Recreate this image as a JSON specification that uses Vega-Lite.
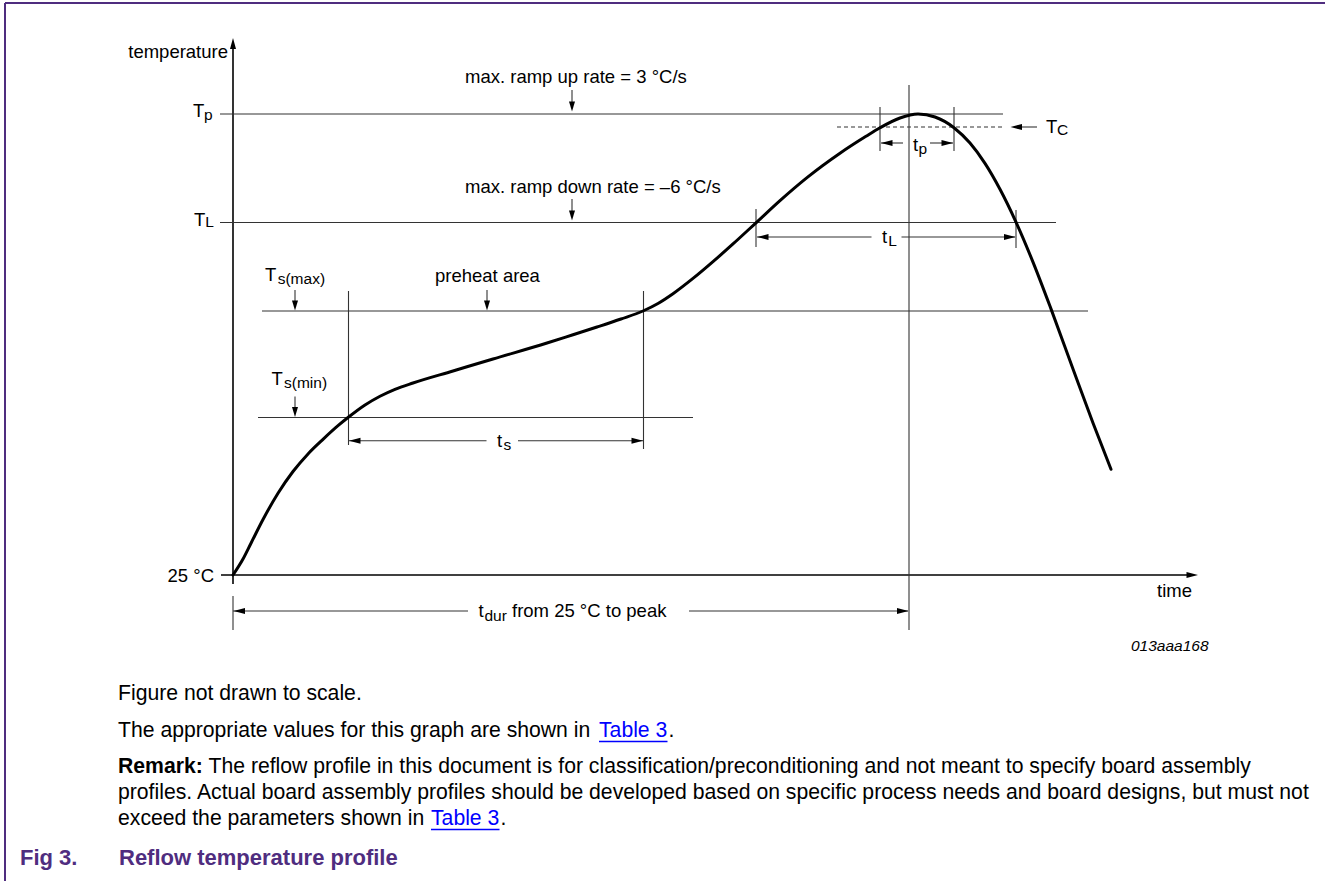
{
  "$schema": "https://vega.github.io/schema/vega-lite/v6.json",
  "width": 1325,
  "height": 881,
  "autosize": {"type": "none"},
  "padding": 0,
  "background": "white",
  "config": {"view": {"stroke": null}},
  "datasets": {
    "frame": [
      {"time": -228, "temp": 572, "time2": 1092, "temp2": 572},
      {"time": -228, "temp": 572, "time2": -228, "temp2": -306}
    ],
    "axes": [
      {"time": 0, "temp": -9, "time2": 0, "temp2": 530},
      {"time": -12, "temp": 0, "time2": 958, "temp2": 0}
    ],
    "guides": [
      {"time": -13, "temp": 461, "time2": 770, "temp2": 461},
      {"time": -13, "temp": 352.5, "time2": 823, "temp2": 352.5},
      {"time": 29, "temp": 264, "time2": 855, "temp2": 264},
      {"time": 25, "temp": 157.5, "time2": 460, "temp2": 157.5},
      {"time": 676, "temp": 490, "time2": 676, "temp2": -55},
      {"time": 647, "temp": 468, "time2": 647, "temp2": 424},
      {"time": 721, "temp": 468, "time2": 721, "temp2": 424},
      {"time": 523, "temp": 366, "time2": 523, "temp2": 328},
      {"time": 783, "temp": 365, "time2": 783, "temp2": 327},
      {"time": 115.5, "temp": 284, "time2": 115.5, "temp2": 130},
      {"time": 410.5, "temp": 284, "time2": 410.5, "temp2": 126},
      {"time": 0, "temp": -21, "time2": 0, "temp2": -55},
      {"time": 648, "temp": 432, "time2": 670, "temp2": 432},
      {"time": 697, "temp": 432, "time2": 720, "temp2": 432},
      {"time": 524, "temp": 338, "time2": 638.5, "temp2": 338},
      {"time": 668.5, "temp": 338, "time2": 782, "temp2": 338},
      {"time": 116, "temp": 134.3, "time2": 253.5, "temp2": 134.3},
      {"time": 285, "temp": 134.3, "time2": 410, "temp2": 134.3},
      {"time": 0, "temp": -36, "time2": 235, "temp2": -36},
      {"time": 456, "temp": -36, "time2": 675, "temp2": -36},
      {"time": 785, "temp": 448, "time2": 804, "temp2": 448},
      {"time": 339, "temp": 485, "time2": 339, "temp2": 470},
      {"time": 339, "temp": 376, "time2": 339, "temp2": 361},
      {"time": 62, "temp": 285, "time2": 62, "temp2": 271},
      {"time": 254, "temp": 285, "time2": 254, "temp2": 271},
      {"time": 62, "temp": 178.5, "time2": 62, "temp2": 164}
    ],
    "tc_line": [
      {"time": 604, "temp": 448, "time2": 771, "temp2": 448}
    ],
    "profile": [
      {"time": 0, "temp": 0},
      {"time": 10, "temp": 16},
      {"time": 18, "temp": 31.8},
      {"time": 30, "temp": 55.5},
      {"time": 45, "temp": 81.75},
      {"time": 60, "temp": 103.5},
      {"time": 75, "temp": 121.1},
      {"time": 90, "temp": 135.7},
      {"time": 105, "temp": 149.3},
      {"time": 115.3, "temp": 157.7},
      {"time": 132, "temp": 170},
      {"time": 147, "temp": 178.75},
      {"time": 162, "temp": 185.7},
      {"time": 180, "temp": 192},
      {"time": 220, "temp": 204},
      {"time": 260, "temp": 216},
      {"time": 314, "temp": 232},
      {"time": 340, "temp": 240.3},
      {"time": 364, "temp": 248},
      {"time": 388, "temp": 256},
      {"time": 410, "temp": 264},
      {"time": 425, "temp": 271.5},
      {"time": 440, "temp": 281.25},
      {"time": 460, "temp": 296.55},
      {"time": 480, "temp": 313.35},
      {"time": 500, "temp": 331.05},
      {"time": 523, "temp": 352.2},
      {"time": 547, "temp": 374.4},
      {"time": 574, "temp": 397.4},
      {"time": 607, "temp": 421.8},
      {"time": 633, "temp": 438.7},
      {"time": 647, "temp": 447.2},
      {"time": 667, "temp": 457},
      {"time": 685, "temp": 461},
      {"time": 702, "temp": 458},
      {"time": 721, "temp": 447.3},
      {"time": 737, "temp": 431.9},
      {"time": 752, "temp": 411.6},
      {"time": 767, "temp": 385.7},
      {"time": 783, "temp": 352.9},
      {"time": 800, "temp": 312.9},
      {"time": 818, "temp": 266.1},
      {"time": 840, "temp": 206.1},
      {"time": 860, "temp": 152.1},
      {"time": 878, "temp": 105.7}
    ],
    "heads_down": [
      {"time": 339, "temp": 463.5},
      {"time": 339, "temp": 354.5},
      {"time": 62, "temp": 264.5},
      {"time": 254, "temp": 264.5},
      {"time": 62, "temp": 158}
    ],
    "heads_left": [
      {"time": 648, "temp": 432},
      {"time": 524, "temp": 338},
      {"time": 116, "temp": 134.3},
      {"time": 0.5, "temp": -36},
      {"time": 777.5, "temp": 448}
    ],
    "heads_right": [
      {"time": 720, "temp": 432},
      {"time": 782.5, "temp": 338},
      {"time": 410, "temp": 134.3},
      {"time": 675.5, "temp": -36},
      {"time": 965, "temp": 0}
    ],
    "heads_up": [
      {"time": 0, "temp": 537}
    ],
    "labels_left": [
      {"label": "T", "time": -40, "temp": 458},
      {"label": "T", "time": -39, "temp": 349.5},
      {"label": "T", "time": 32, "temp": 294},
      {"label": "T", "time": 38.5, "temp": 190},
      {"label": "T", "time": 813, "temp": 442.5},
      {"label": "t", "time": 680, "temp": 424},
      {"label": "t", "time": 649, "temp": 332},
      {"label": "t", "time": 264, "temp": 128},
      {"label": "t", "time": 245.5, "temp": -42},
      {"label": "from 25 °C to peak", "time": 279, "temp": -42},
      {"label": "max. ramp up rate = 3 °C/s", "time": 232, "temp": 492},
      {"label": "max. ramp down rate = –6 °C/s", "time": 232, "temp": 382.5},
      {"label": "preheat area", "time": 202, "temp": 293.5},
      {"label": "time", "time": 924, "temp": -22}
    ],
    "labels_right": [
      {"label": "temperature", "time": -5, "temp": 517},
      {"label": "25 °C", "time": -19, "temp": -6.5}
    ],
    "subscripts": [
      {"label": "p", "time": -29, "temp": 455},
      {"label": "L", "time": -27.7, "temp": 348},
      {"label": "s(max)", "time": 44.7, "temp": 291},
      {"label": "s(min)", "time": 51, "temp": 187},
      {"label": "C", "time": 824, "temp": 440},
      {"label": "p", "time": 685.5, "temp": 421},
      {"label": "L", "time": 655.3, "temp": 329},
      {"label": "s", "time": 270.5, "temp": 125},
      {"label": "dur", "time": 251.5, "temp": -46}
    ],
    "figure_id": [
      {"label": "013aaa168", "time": 898, "temp": -76}
    ],
    "body": [
      {"label": "Figure not drawn to scale.", "time": -115, "temp": -125},
      {"label": "The appropriate values for this graph are shown in", "time": -115, "temp": -162},
      {"label": ".", "time": 435.5, "temp": -162},
      {"label": "The reflow profile in this document is for classification/preconditioning and not meant to specify board assembly", "time": -24.5, "temp": -198},
      {"label": "profiles. Actual board assembly profiles should be developed based on specific process needs and board designs, but must not", "time": -115, "temp": -224},
      {"label": "exceed the parameters shown in", "time": -115, "temp": -250},
      {"label": ".", "time": 267.5, "temp": -250}
    ],
    "body_bold": [
      {"label": "Remark:", "time": -115, "temp": -198}
    ],
    "links": [
      {"label": "Table 3", "time": 366, "temp": -162},
      {"label": "Table 3", "time": 198, "temp": -250}
    ],
    "link_lines": [
      {"time": 366, "temp": -166.5, "time2": 434.5, "temp2": -166.5},
      {"time": 198, "temp": -254.5, "time2": 266.5, "temp2": -254.5}
    ],
    "caption": [
      {"label": "Fig 3.", "time": -213, "temp": -289.5},
      {"label": "Reflow temperature profile", "time": -114, "temp": -289.5}
    ]
  },
  "layer": [
    {
      "data": {"name": "frame"},
      "mark": {"type": "rule", "color": "#4F2D7F", "strokeWidth": 2},
      "encoding": {
        "x": {"field": "time", "type": "quantitative", "scale": {"domain": [-233, 1092], "nice": false, "zero": false}, "axis": null},
        "y": {"field": "temp", "type": "quantitative", "scale": {"domain": [-306, 575], "nice": false, "zero": false}, "axis": null},
        "x2": {"field": "time2"},
        "y2": {"field": "temp2"}
      }
    },
    {
      "data": {"name": "axes"},
      "mark": {"type": "rule", "color": "#000000", "strokeWidth": 1.6},
      "encoding": {
        "x": {"field": "time", "type": "quantitative", "scale": {"domain": [-233, 1092], "nice": false, "zero": false}, "axis": null},
        "y": {"field": "temp", "type": "quantitative", "scale": {"domain": [-306, 575], "nice": false, "zero": false}, "axis": null},
        "x2": {"field": "time2"},
        "y2": {"field": "temp2"}
      }
    },
    {
      "data": {"name": "guides"},
      "mark": {"type": "rule", "color": "#333333", "strokeWidth": 1.1},
      "encoding": {
        "x": {"field": "time", "type": "quantitative", "scale": {"domain": [-233, 1092], "nice": false, "zero": false}, "axis": null},
        "y": {"field": "temp", "type": "quantitative", "scale": {"domain": [-306, 575], "nice": false, "zero": false}, "axis": null},
        "x2": {"field": "time2"},
        "y2": {"field": "temp2"}
      }
    },
    {
      "data": {"name": "tc_line"},
      "mark": {"type": "rule", "color": "#333333", "strokeWidth": 1.1, "strokeDash": [4, 3]},
      "encoding": {
        "x": {"field": "time", "type": "quantitative", "scale": {"domain": [-233, 1092], "nice": false, "zero": false}, "axis": null},
        "y": {"field": "temp", "type": "quantitative", "scale": {"domain": [-306, 575], "nice": false, "zero": false}, "axis": null},
        "x2": {"field": "time2"},
        "y2": {"field": "temp2"}
      }
    },
    {
      "data": {"name": "profile"},
      "mark": {"type": "line", "color": "#000000", "strokeWidth": 3, "interpolate": "monotone", "strokeCap": "round"},
      "encoding": {
        "x": {"field": "time", "type": "quantitative", "scale": {"domain": [-233, 1092], "nice": false, "zero": false}, "axis": null},
        "y": {"field": "temp", "type": "quantitative", "scale": {"domain": [-306, 575], "nice": false, "zero": false}, "axis": null}
      }
    },
    {
      "data": {"name": "heads_down"},
      "mark": {"type": "point", "shape": "M0,0L-0.6,-2L0.6,-2Z", "filled": true, "color": "#000000", "size": 100, "opacity": 1, "strokeWidth": 0},
      "encoding": {
        "x": {"field": "time", "type": "quantitative", "scale": {"domain": [-233, 1092], "nice": false, "zero": false}, "axis": null},
        "y": {"field": "temp", "type": "quantitative", "scale": {"domain": [-306, 575], "nice": false, "zero": false}, "axis": null}
      }
    },
    {
      "data": {"name": "heads_left"},
      "mark": {"type": "point", "shape": "M0,0L2.3,-0.6L2.3,0.6Z", "filled": true, "color": "#000000", "size": 100, "opacity": 1, "strokeWidth": 0},
      "encoding": {
        "x": {"field": "time", "type": "quantitative", "scale": {"domain": [-233, 1092], "nice": false, "zero": false}, "axis": null},
        "y": {"field": "temp", "type": "quantitative", "scale": {"domain": [-306, 575], "nice": false, "zero": false}, "axis": null}
      }
    },
    {
      "data": {"name": "heads_right"},
      "mark": {"type": "point", "shape": "M0,0L-2.3,-0.6L-2.3,0.6Z", "filled": true, "color": "#000000", "size": 100, "opacity": 1, "strokeWidth": 0},
      "encoding": {
        "x": {"field": "time", "type": "quantitative", "scale": {"domain": [-233, 1092], "nice": false, "zero": false}, "axis": null},
        "y": {"field": "temp", "type": "quantitative", "scale": {"domain": [-306, 575], "nice": false, "zero": false}, "axis": null}
      }
    },
    {
      "data": {"name": "heads_up"},
      "mark": {"type": "point", "shape": "M0,0L-0.6,2.2L0.6,2.2Z", "filled": true, "color": "#000000", "size": 100, "opacity": 1, "strokeWidth": 0},
      "encoding": {
        "x": {"field": "time", "type": "quantitative", "scale": {"domain": [-233, 1092], "nice": false, "zero": false}, "axis": null},
        "y": {"field": "temp", "type": "quantitative", "scale": {"domain": [-306, 575], "nice": false, "zero": false}, "axis": null}
      }
    },
    {
      "data": {"name": "labels_left"},
      "mark": {"type": "text", "align": "left", "baseline": "alphabetic", "font": "Liberation Sans", "fontSize": 18.5, "color": "#000000"},
      "encoding": {
        "x": {"field": "time", "type": "quantitative", "scale": {"domain": [-233, 1092], "nice": false, "zero": false}, "axis": null},
        "y": {"field": "temp", "type": "quantitative", "scale": {"domain": [-306, 575], "nice": false, "zero": false}, "axis": null},
        "text": {"field": "label"}
      }
    },
    {
      "data": {"name": "labels_right"},
      "mark": {"type": "text", "align": "right", "baseline": "alphabetic", "font": "Liberation Sans", "fontSize": 18.5, "color": "#000000"},
      "encoding": {
        "x": {"field": "time", "type": "quantitative", "scale": {"domain": [-233, 1092], "nice": false, "zero": false}, "axis": null},
        "y": {"field": "temp", "type": "quantitative", "scale": {"domain": [-306, 575], "nice": false, "zero": false}, "axis": null},
        "text": {"field": "label"}
      }
    },
    {
      "data": {"name": "subscripts"},
      "mark": {"type": "text", "align": "left", "baseline": "alphabetic", "font": "Liberation Sans", "fontSize": 15.5, "color": "#000000"},
      "encoding": {
        "x": {"field": "time", "type": "quantitative", "scale": {"domain": [-233, 1092], "nice": false, "zero": false}, "axis": null},
        "y": {"field": "temp", "type": "quantitative", "scale": {"domain": [-306, 575], "nice": false, "zero": false}, "axis": null},
        "text": {"field": "label"}
      }
    },
    {
      "data": {"name": "figure_id"},
      "mark": {"type": "text", "align": "left", "baseline": "alphabetic", "font": "Liberation Sans", "fontSize": 15.5, "fontStyle": "italic", "color": "#000000"},
      "encoding": {
        "x": {"field": "time", "type": "quantitative", "scale": {"domain": [-233, 1092], "nice": false, "zero": false}, "axis": null},
        "y": {"field": "temp", "type": "quantitative", "scale": {"domain": [-306, 575], "nice": false, "zero": false}, "axis": null},
        "text": {"field": "label"}
      }
    },
    {
      "data": {"name": "body"},
      "mark": {"type": "text", "align": "left", "baseline": "alphabetic", "font": "Liberation Sans", "fontSize": 21.2, "color": "#000000"},
      "encoding": {
        "x": {"field": "time", "type": "quantitative", "scale": {"domain": [-233, 1092], "nice": false, "zero": false}, "axis": null},
        "y": {"field": "temp", "type": "quantitative", "scale": {"domain": [-306, 575], "nice": false, "zero": false}, "axis": null},
        "text": {"field": "label"}
      }
    },
    {
      "data": {"name": "body_bold"},
      "mark": {"type": "text", "align": "left", "baseline": "alphabetic", "font": "Liberation Sans", "fontSize": 21.2, "fontWeight": "bold", "color": "#000000"},
      "encoding": {
        "x": {"field": "time", "type": "quantitative", "scale": {"domain": [-233, 1092], "nice": false, "zero": false}, "axis": null},
        "y": {"field": "temp", "type": "quantitative", "scale": {"domain": [-306, 575], "nice": false, "zero": false}, "axis": null},
        "text": {"field": "label"}
      }
    },
    {
      "data": {"name": "links"},
      "mark": {"type": "text", "align": "left", "baseline": "alphabetic", "font": "Liberation Sans", "fontSize": 21.2, "color": "#0000FF"},
      "encoding": {
        "x": {"field": "time", "type": "quantitative", "scale": {"domain": [-233, 1092], "nice": false, "zero": false}, "axis": null},
        "y": {"field": "temp", "type": "quantitative", "scale": {"domain": [-306, 575], "nice": false, "zero": false}, "axis": null},
        "text": {"field": "label"}
      }
    },
    {
      "data": {"name": "link_lines"},
      "mark": {"type": "rule", "color": "#0000FF", "strokeWidth": 1.5},
      "encoding": {
        "x": {"field": "time", "type": "quantitative", "scale": {"domain": [-233, 1092], "nice": false, "zero": false}, "axis": null},
        "y": {"field": "temp", "type": "quantitative", "scale": {"domain": [-306, 575], "nice": false, "zero": false}, "axis": null},
        "x2": {"field": "time2"},
        "y2": {"field": "temp2"}
      }
    },
    {
      "data": {"name": "caption"},
      "mark": {"type": "text", "align": "left", "baseline": "alphabetic", "font": "Liberation Sans", "fontSize": 22, "fontWeight": "bold", "color": "#4F2D7F"},
      "encoding": {
        "x": {"field": "time", "type": "quantitative", "scale": {"domain": [-233, 1092], "nice": false, "zero": false}, "axis": null},
        "y": {"field": "temp", "type": "quantitative", "scale": {"domain": [-306, 575], "nice": false, "zero": false}, "axis": null},
        "text": {"field": "label"}
      }
    }
  ]
}
